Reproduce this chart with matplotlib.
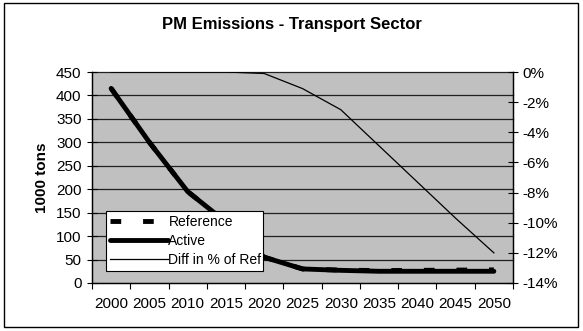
import matplotlib
matplotlib.use('Agg')
from matplotlib import pyplot as plt
from matplotlib.patches import Rectangle

years = ['2000', '2005', '2010', '2015', '2020', '2025',
         '2030', '2035', '2040', '2045', '2050']
reference = [415, 300, 195, 130, 55, 30, 27.5, 26.5, 27, 27.5, 28]
active = [415, 300, 195, 130, 55, 30, 27, 25, 25, 25, 25]
diff_pct = [0, 0, 0, 0, -0.1, -1.1, -2.5, -4.9, -7.3, -9.7, -12.0]

plt.rcParams['font.family'] = ['Liberation Sans', 'DejaVu Sans']
plt.rcParams['font.size'] = 11
plt.rcParams['axes.unicode_minus'] = False

fig = plt.figure(figsize = (5.83, 3.31), dpi = 100)
ax = fig.add_axes([92/583, 1 - 283/331, 421/583, 211/331])
ax.set_facecolor('#C0C0C0')

x = list(range(len(years)))

# horizontal grid at every 50
for v in range(50, 451, 50):
    ax.axhline(v, color = '#202020', linewidth = 0.9, zorder = 1,
               clip_on = False)

ax.plot(x, reference, color = 'black', linewidth = 3.5,
        dashes = (2.2, 4.5), label = 'Reference', zorder = 3)
ax.plot(x, active, color = 'black', linewidth = 3.5,
        solid_capstyle = 'round', label = 'Active', zorder = 3)

ax2 = ax.twinx()
ax2.plot(x, diff_pct, color = 'black', linewidth = 0.9,
         label = 'Diff in % of Ref', zorder = 3)

ax.set_xlim(-0.5, len(years) - 0.5)
ax.set_ylim(0, 450)
ax.set_yticks(range(0, 451, 50))
ax2.set_ylim(-14, 0)
ax2.set_yticks(range(-14, 1, 2))
ax2.set_yticklabels(['%d%%' % t for t in range(-14, 1, 2)])

# category boundaries get tick marks, labels sit at centres
ax.set_xticks([i - 0.5 for i in range(len(years) + 1)])
ax.set_xticklabels([])
ax.set_xticks(x, minor = True)
ax.set_xticklabels(years, minor = True)
ax.tick_params(axis = 'x', which = 'major', direction = 'out', length = 4,
               width = 0.8)
ax.tick_params(axis = 'x', which = 'minor', length = 0, pad = 10)
ax.tick_params(axis = 'y', direction = 'inout', length = 7, width = 0.8,
               pad = 4)
ax2.tick_params(axis = 'y', direction = 'inout', length = 7, width = 0.8,
                pad = 3)

ax.spines['top'].set_visible(False)
ax2.spines['top'].set_visible(False)
for s in ['left', 'right', 'bottom']:
    ax.spines[s].set_linewidth(0.9)
    ax2.spines[s].set_linewidth(0.9)

ax.set_ylabel('1000 tons', fontweight = 'bold', labelpad = 5)
fig.text(0.5, 1 - 25/331, 'PM Emissions - Transport Sector',
         ha = 'center', va = 'center', fontsize = 12, fontweight = 'bold')

h1, l1 = ax.get_legend_handles_labels()
h2, l2 = ax2.get_legend_handles_labels()
leg = ax2.legend(h1 + h2, l1 + l2, loc = 'lower left',
                 bbox_to_anchor = (0.033, 0.057, 0.373, 0.308),
                 mode = 'expand', frameon = True, fancybox = False,
                 edgecolor = 'black', framealpha = 1, handlelength = 4.2,
                 handletextpad = 0.0, borderpad = 0.3, labelspacing = 0.35,
                 borderaxespad = 0, fontsize = 10)
leg.get_frame().set_linewidth(0.8)
leg.set_zorder(5)

fig.patches.append(Rectangle((4/583, 1 - 327/331), 574/583, 324/331,
                             transform = fig.transFigure, fill = False,
                             edgecolor = 'black', linewidth = 1))

fig.savefig('out.png', dpi = 100)
